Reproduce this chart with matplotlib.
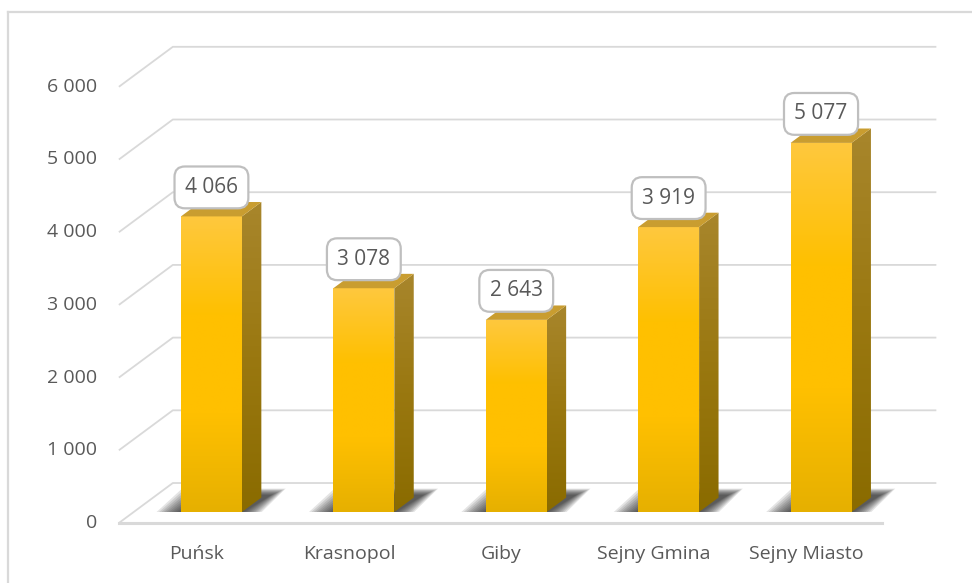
import numpy as np
import matplotlib
matplotlib.use("Agg")
import matplotlib.pyplot as plt
from matplotlib.patches import Polygon
from matplotlib.colors import LinearSegmentedColormap
from matplotlib.lines import Line2D

categories = ["Puńsk", "Krasnopol", "Giby", "Sejny Gmina", "Sejny Miasto"]
values = [4066, 3078, 2643, 3919, 5077]
yticks = [0, 1000, 2000, 3000, 4000, 5000, 6000]

# layout: x in category units, y in value units (front plane), depth via offset
DX, DV = 0.354, 550.0        # full floor depth in category / value units
HALF = 0.20                  # half bar width
D0, D1 = 0.275, 0.635        # bar front / back depth fraction
GRID = "#d9d9d9"
TXT = "#595959"
FONT = "Open Sans"


def proj(c, v, d):
    return (c + d * DX, v + d * DV)


def fmt(v):
    return f"{v:,}".replace(",", " ")


def fill_grad(ax, verts, cols, z):
    poly = Polygon(verts, closed=True, facecolor="none", edgecolor="none")
    ax.add_patch(poly)
    xs, ys = zip(*verts)
    cmap = LinearSegmentedColormap.from_list("g", cols)
    grad = np.linspace(0, 1, 256).reshape(-1, 1)
    im = ax.imshow(grad, cmap=cmap, origin="lower", aspect="auto",
                   extent=(min(xs), max(xs), min(ys), max(ys)),
                   interpolation="bilinear", zorder=z)
    im.set_clip_path(poly)


fig = plt.figure(figsize=(9.72, 5.83), dpi=100)
ax = fig.add_axes([0, 0, 1, 1])
ax.axis("off")

# gridlines: side wall diagonal + back wall
for v in yticks:
    pts = [proj(-0.51, v, 0), proj(-0.51, v, 1), proj(4.5, v, 1)]
    ax.plot(*zip(*pts), color=GRID, lw=1.3, zorder=1, solid_capstyle="butt")
    ax.text(-0.655, v, fmt(v), ha="right", va="center", fontsize=14,
            color=TXT, family=FONT)
# floor front edge
ax.plot(*zip(proj(-0.51, 0, 0), proj(4.5, 0, 0)), color=GRID, lw=2.2, zorder=1)

for i, (cat, v) in enumerate(zip(categories, values)):
    c = i
    # soft floor shadow, darkest next to the bar foot
    core = np.array([proj(c - HALF, 0, D0), proj(c + HALF, 0, D0),
                     proj(c + HALF + 0.04, 0, D1 + 0.05), proj(c - HALF + 0.02, 0, D1 + 0.05)])
    big = np.array([proj(c - HALF - 0.16, 0, D0), proj(c + HALF + 0.13, 0, D0),
                    proj(c + HALF + 0.08, 0, 0.86), proj(c - HALF - 0.2, 0, 0.86)])
    n = 10
    for k in range(n):
        t = k / (n - 1)
        ax.add_patch(Polygon(big + t * 0.9 * (core - big), closed=True,
                             facecolor="#222222", edgecolor="none",
                             alpha=0.12, zorder=2))

    front = [proj(c - HALF, 0, D0), proj(c + HALF, 0, D0),
             proj(c + HALF, v, D0), proj(c - HALF, v, D0)]
    side = [proj(c + HALF, 0, D0), proj(c + HALF, 0, D1),
            proj(c + HALF, v, D1), proj(c + HALF, v, D0)]
    top = [proj(c - HALF, v, D0), proj(c + HALF, v, D0),
           proj(c + HALF, v, D1), proj(c - HALF, v, D1)]
    fill_grad(ax, front, ["#e6b000", "#ffc000", "#ffc000", "#fec83e"], 3)
    fill_grad(ax, side, ["#8a6b00", "#9a7810", "#a8862c"], 3)
    ax.add_patch(Polygon(top, closed=True, facecolor="#c99d30", edgecolor="none", zorder=3))

    lx, ly = proj(c, v, D0)
    ax.text(lx, ly + 399, fmt(v), ha="center", va="center", fontsize=15,
            color=TXT, family=FONT, zorder=5,
            bbox=dict(boxstyle="round,pad=0.5,rounding_size=0.5",
                      facecolor="white", edgecolor="#bfbfbf", linewidth=1.6))
    ax.text(c, -426, cat, ha="center", va="center", fontsize=14,
            color=TXT, family=FONT)

ax.set_xlim(-196.6 / 152.4, (972 - 196.6) / 152.4)
ax.set_ylim((523 - 583) / 0.0727, 523 / 0.0727)

# chart area border (only left and top fall inside the image)
fig.add_artist(Line2D([7.5 / 972, 7.5 / 972], [0, 1 - 11.5 / 583], color=GRID, lw=1.6))
fig.add_artist(Line2D([7.5 / 972, 1], [1 - 11.5 / 583, 1 - 11.5 / 583], color=GRID, lw=1.6))

fig.savefig("out.png", dpi=100, facecolor="white")
